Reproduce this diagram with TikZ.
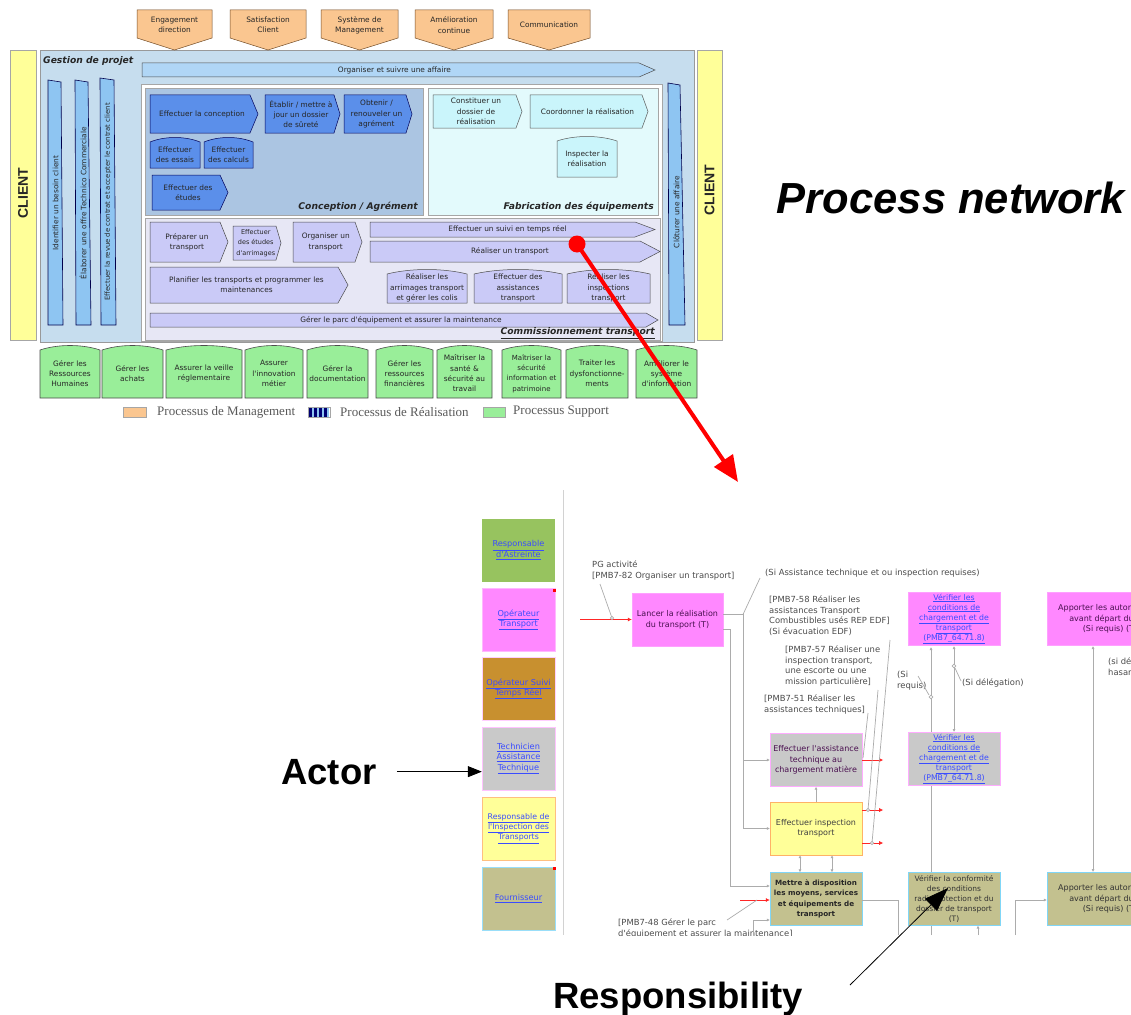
\documentclass[tikz,border=0pt]{standalone}
\usepackage{fontspec}
\setmainfont{Liberation Sans}
\newfontfamily\dejavu{DejaVu Sans}
\newfontfamily\timesf{Liberation Serif}
\usetikzlibrary{arrows.meta}
\definecolor{mgmt}{HTML}{FAC690}
\definecolor{frameblue}{HTML}{C6DDEE}
\definecolor{barblue}{HTML}{8EC5F2}
\definecolor{concbg}{HTML}{ABC5E2}
\definecolor{concbox}{HTML}{5B8FEA}
\definecolor{fabbg}{HTML}{E3FAFC}
\definecolor{fabbox}{HTML}{CAF5FB}
\definecolor{trbg}{HTML}{E7E7F5}
\definecolor{trbox}{HTML}{CACAF7}
\definecolor{supp}{HTML}{99EE99}
\definecolor{clienty}{HTML}{FFFF99}
\definecolor{mag}{HTML}{FF88FF}
\definecolor{grayb}{HTML}{C9C9C9}
\definecolor{khaki}{HTML}{C3C18F}
\definecolor{brownb}{HTML}{C8902F}
\definecolor{greenb}{HTML}{97C35F}
\definecolor{linkblue}{HTML}{3A4CFF}
\definecolor{darktxt}{HTML}{4A1050}
\newcommand\abox[8]{%
  \draw[#7] (#2,#3) -- ({#4-#6},#3) -- (#4,{(#3+#5)/2}) -- ({#4-#6},#5) -- (#2,#5) -- cycle;
  \node[boxtext] (#1) at ({(#2+#4-#6/2)/2},{(#3+#5)/2}) {#8};}
\newcommand\wbox[7]{%
  \draw[#6] (#2,#5) -- (#2,{#3+4}) .. controls ({#2+0.3*(#4-#2)},{#3-2}) and ({#2+0.7*(#4-#2)},{#3-2}) .. (#4,{#3+4}) -- (#4,#5) -- cycle;
  \node[boxtext] (#1) at ({(#2+#4)/2},{(#3+#5)/2+1.5}) {#7};}
\newcommand\mgbox[6]{%
  \draw[mgstyle] (#2,#3) -- (#4,#3) -- (#4,#5) -- ({(#2+#4)/2},{#5+12}) -- (#2,#5) -- cycle;
  \node[boxtext] (#1) at ({(#2+#4)/2},{(#3+#5)/2+1}) {#6};}
\newcommand\lk[1]{\underline{#1}}
\newcommand\sml{\fontsize{6.5}{9.4}\selectfont}
\newcommand\smm{\fontsize{7}{10}\selectfont}
\begin{document}
\begin{tikzpicture}[x=1pt,y=-1pt,
  boxtext/.style={font=\dejavu\fontsize{7.4}{10.3}\selectfont, align=center, inner sep=0pt, text=black!85},
  btext/.style={font=\dejavu\fontsize{8}{10.4}\selectfont, align=center, inner sep=0pt},
  ann/.style={font=\dejavu\fontsize{8.4}{10.5}\selectfont, align=left, inner sep=0pt, text=black!70},
  titletext/.style={font=\dejavu\bfseries\itshape\fontsize{9.2}{10}\selectfont, inner sep=0pt, text=black!85},
  legtext/.style={font=\timesf\fontsize{13}{13}\selectfont, text=black!65, anchor=west, inner sep=0pt},
  mgstyle/.style={fill=mgmt, draw=brown!60!black, line width=0.5pt},
  concb/.style={fill=concbox, draw=blue!35!black, line width=0.5pt},
  fabb/.style={fill=fabbox, draw=gray!70!black, line width=0.5pt},
  trb/.style={fill=trbox, draw=gray!60!black, line width=0.5pt},
  suppb/.style={fill=supp, draw=gray!60!black, line width=0.6pt},
  vbar/.style={fill=barblue, draw=blue!30!black, line width=0.6pt},
  actorbox/.style={minimum width=73pt, minimum height=63pt, inner sep=1pt, align=center,
     font=\dejavu\fontsize{8.2}{10.3}\selectfont, text=linkblue},
  pbox/.style={draw, minimum width=92pt, minimum height=53pt, inner sep=1pt, btext},
  conn/.style={draw=gray!65, line width=0.7pt},
  sarr/.style={-{Latex[length=3pt,width=3pt]}},
  redarr/.style={draw=red!85, line width=0.6pt, -{Latex[length=4pt,width=4pt]}},
  bigtext/.style={font=\bfseries\fontsize{36.5}{40}\selectfont, inner sep=0pt}
]
\useasboundingbox (0,0) rectangle (1131,1014);
\fill[white] (0,0) rectangle (1131,1014);

% ---------- process network ----------
\draw[fill=frameblue, draw=gray!80] (40,50) rectangle (694,342);
\mgbox{m1}{137}{10}{212}{38}{Engagement\\direction}
\mgbox{m2}{230}{10}{306}{38}{Satisfaction\\Client}
\mgbox{m3}{321}{10}{398}{38}{Système de\\Management}
\mgbox{m4}{415}{10}{493}{38}{Amélioration\\continue}
\mgbox{m5}{508}{10}{590}{38}{Communication}

\draw[fill=clienty, draw=gray!70] (10,50) rectangle (36,340);
\node[rotate=90, font=\bfseries\fontsize{14}{14}\selectfont, text=black!85, inner sep=0pt] (cl1) at (23,193) {CLIENT};
\draw[fill=clienty, draw=gray!70] (697,50) rectangle (722,340);
\node[rotate=90, font=\bfseries\fontsize{14}{14}\selectfont, text=black!85, inner sep=0pt] (cl2) at (709.5,190) {CLIENT};

\node[titletext, anchor=west] (gp) at (43,61) {Gestion de projet};
\abox{org}{142}{63}{655}{77}{16}{trb, fill=barblue!70}{Organiser et suivre une affaire}

\draw[vbar] (48,80) -- (61,82) -- (63,325) -- (48,325) -- cycle;
\node[boxtext, rotate=90] (v1) at (55.5,203) {Identifier un besoin client};
\draw[vbar] (75,80) -- (88,82) -- (91,325) -- (76,325) -- cycle;
\node[boxtext, rotate=90] (v2) at (83,203) {Élaborer une offre Technico Commerciale};
\draw[vbar] (100,78) -- (114,80) -- (116,325) -- (101,325) -- cycle;
\node[boxtext, rotate=90, font=\dejavu\fontsize{6.9}{8}\selectfont] (v3) at (108,202) {Effectuer la revue de contrat et accepter le contrat client};
\draw[vbar] (668,83) -- (680,85) -- (685,325) -- (669,325) -- cycle;
\node[boxtext, rotate=90] (v4) at (676.5,212) {Clôturer une affaire};

\draw[fill=white, draw=gray!70] (141,84) rectangle (662,341);
\draw[fill=concbg, draw=gray!70] (145,88) rectangle (423,215);
\draw[fill=fabbg, draw=gray!70] (428,88) rectangle (658,215);
\draw[fill=trbg, draw=gray!70] (145,218) rectangle (660,340);

\abox{c1}{150}{95}{258}{133}{8}{concb}{Effectuer la conception}
\abox{c2}{265}{95}{340}{133}{6}{concb}{Établir / mettre à\\jour un dossier\\de sûreté}
\abox{c3}{344}{95}{412}{133}{6}{concb}{Obtenir /\\renouveler un\\agrément}
\wbox{c4}{150}{138}{200}{168}{concb}{Effectuer\\des essais}
\wbox{c5}{204}{138}{253}{168}{concb}{Effectuer\\des calculs}
\abox{c6}{152}{175}{228}{210}{8}{concb}{Effectuer des\\études}
\node[titletext, anchor=east] (concl) at (418,207) {Conception / Agrément};

\abox{f1}{433}{95}{522}{128}{6}{fabb}{Constituer un\\dossier de\\réalisation}
\abox{f2}{530}{95}{648}{128}{6}{fabb}{Coordonner la réalisation}
\wbox{f3}{557}{137}{617}{177}{fabb}{Inspecter la\\réalisation}
\node[titletext, anchor=east] (fabl) at (654,207) {Fabrication des équipements};

\abox{t1}{150}{222}{228}{262}{8}{trb}{Préparer un\\transport}
\abox{t2}{233}{226}{281}{260}{5}{trb}{\sml Effectuer\\\sml des études\\\sml d'arrimages}
\abox{t3}{293}{222}{362}{262}{7}{trb}{Organiser un\\transport}
\abox{t4}{370}{222}{655}{237}{20}{trb}{Effectuer un suivi en temps réel}
\abox{t5}{370}{241}{660}{262}{20}{trb}{Réaliser un transport}
\abox{t6}{150}{267}{348}{303}{10}{trb}{Planifier les transports et programmer les\\maintenances}
\wbox{t7}{387}{270}{467}{303}{trb}{Réaliser les\\arrimages transport\\et gérer les colis}
\wbox{t8}{474}{270}{562}{303}{trb}{Effectuer des\\assistances\\transport}
\wbox{t9}{567}{270}{650}{303}{trb}{Réaliser les\\inspections\\transport}
\abox{t10}{150}{313}{658}{327}{12}{trb}{Gérer le parc d'équipement et assurer la maintenance}
\node[titletext, anchor=east] (trl) at (655,333) {\underline{Commissionnement transport}};

\wbox{s1}{40}{346}{100}{398}{suppb}{Gérer les\\Ressources\\Humaines}
\wbox{s2}{102}{346}{163}{398}{suppb}{Gérer les\\achats}
\wbox{s3}{166}{346}{242}{398}{suppb}{Assurer la veille\\réglementaire}
\wbox{s4}{245}{346}{303}{398}{suppb}{Assurer\\l'innovation\\métier}
\wbox{s5}{307}{346}{368}{398}{suppb}{Gérer la\\documentation}
\wbox{s6}{376}{346}{433}{398}{suppb}{Gérer les\\ressources\\financières}
\wbox{s7}{437}{346}{492}{398}{suppb}{Maîtriser la\\santé \&\\sécurité au\\travail}
\wbox{s8}{502}{346}{561}{398}{suppb}{\smm Maîtriser la\\\smm sécurité\\\smm information et\\\smm patrimoine}
\wbox{s9}{566}{346}{628}{398}{suppb}{Traiter les\\dysfonctionne-\\ments}
\wbox{s10}{636}{346}{697}{398}{suppb}{Améliorer le\\système\\d'information}

% legend
\draw[fill=mgmt, draw=gray!70] (123,407) rectangle (146,417);
\node[legtext] (lg1) at (157,412) {Processus de Management};
\draw[fill=white, draw=gray!70] (308,407) rectangle (330,417);
\foreach \sx in {309,314,319,324} {\fill[blue!45!black] (\sx,407.5) rectangle (\sx+2.5,416.5);}
\foreach \sx in {311.5,316.5,321.5,326.5} {\fill[barblue] (\sx,407.5) rectangle (\sx+2.5,416.5);}
\node[legtext] (lg2) at (340,412) {Processus de Réalisation};
\draw[fill=supp, draw=gray!70] (483,407) rectangle (505,417);
\node[legtext] (lg3) at (513,412) {Processus Support};

\node[font=\bfseries\itshape\fontsize{43.5}{46}\selectfont, anchor=base, inner sep=0pt] (pn) at (951,213) {Process network};

% ---------- actors ----------
\draw[gray!35, line width=1pt] (563,490) -- (563,935);
\node[actorbox, fill=greenb] (a1) at (518.5,550) {\lk{Responsable}\\\lk{d'Astreinte}};
\node[actorbox, fill=mag, draw=mag!60] (a2) at (518.5,620) {\lk{Opérateur}\\\lk{Transport}};
\fill[red] (553,589) rectangle (556,592);
\node[actorbox, fill=brownb, draw=mag!40] (a3) at (518.5,689) {\lk{Opérateur Suivi}\\\lk{Temps Réel}};
\node[actorbox, fill=grayb, draw=mag!50] (a4) at (518.5,758.5) {\lk{Technicien}\\\lk{Assistance}\\\lk{Technique}};
\node[actorbox, fill=clienty, draw=orange!50, font=\dejavu\fontsize{7.8}{10.3}\selectfont] (a5) at (518.5,828.5) {\lk{Responsable de}\\\lk{l'Inspection des}\\\lk{Transports}};
\node[actorbox, fill=khaki, draw=cyan!40] (a6) at (518.5,898.5) {\lk{Fournisseur}};
\fill[red] (553,867) rectangle (556,870);

\node[bigtext, anchor=base] (actorlbl) at (329,784) {Actor};
\draw[line width=0.8pt, -{Triangle[length=14pt,width=11pt]}] ([xshift=20pt]actorlbl.east) -- (a4.west |- actorlbl.east);

% ---------- lower process diagram ----------
\begin{scope}
\clip (563,488) rectangle (1131,935);
\node[ann, anchor=north west] (pg) at (592,561) {PG activité\\{[}PMB7-82 Organiser un transport{]}};
\node[ann, anchor=west] (si1) at (765,573) {(Si Assistance technique et ou inspection requises)};
\node[ann, anchor=north west] (pm58) at (769,596) {{[}PMB7-58 Réaliser les\\assistances Transport\\Combustibles usés REP EDF{]}\\(Si évacuation EDF)};
\node[ann, anchor=north west] (pm57) at (785,646) {{[}PMB7-57 Réaliser une\\inspection transport,\\une escorte ou une\\mission particulière{]}};
\node[ann, anchor=north west] (pm51) at (764,695) {{[}PMB7-51 Réaliser les\\assistances techniques{]}};
\node[ann, anchor=north west] (pm48) at (618,919) {{[}PMB7-48 Gérer le parc\\ d'équipement et assurer la maintenance{]}};
\node[ann, anchor=north west] (sireq) at (897,671) {(Si\\requis)};
\node[ann, anchor=west] (sidel) at (962,683) {(Si délégation)};
\node[ann, anchor=north west] (sid) at (1108,658) {(si dé\\hasar};

% vertical links behind boxes
\draw[conn, sarr] (931,935) -- (931,647);
\draw[conn, {Latex[length=3pt,width=3pt]}-{Latex[length=3pt,width=3pt]}] (954,646) -- (954,732);
\draw[conn, {Latex[length=3pt,width=3pt]}-{Latex[length=3pt,width=3pt]}] (1093,646) -- (1093,872);
\draw[conn] (898,900) -- (898,935);
\draw[conn] (1015,935) -- (1015,900);
\draw[conn] (753,935) -- (753,920);
\draw[conn] (978,935) -- (978,927);

\node[pbox, fill=mag, draw=mag!80, text=darktxt, minimum width=91pt] (lancer) at (677.5,619.5) {Lancer la réalisation\\du transport (T)};
\node[pbox, fill=grayb, draw=mag!70, text=darktxt] (eff1) at (816,760) {Effectuer l'assistance\\technique au\\chargement matière};
\node[pbox, fill=clienty, draw=orange!60, text=black!75] (eff2) at (816,828.5) {Effectuer inspection\\transport};
\node[pbox, fill=khaki, draw=cyan!50, text=black!85, font=\dejavu\bfseries\fontsize{7.2}{10.4}\selectfont] (motive) at (816,899) {Mettre à disposition\\les moyens, services\\et équipements de\\transport};
\node[pbox, fill=mag, draw=mag!80, text=linkblue, font=\dejavu\fontsize{7.8}{10.1}\selectfont] (verif1) at (954,619) {\lk{Vérifier les}\\\lk{conditions de}\\\lk{chargement et de}\\\lk{transport}\\\lk{(PMB7\_64.71.8)}};
\node[pbox, fill=grayb, draw=mag!70, text=linkblue, font=\dejavu\fontsize{7.8}{10.1}\selectfont] (verif2) at (954,759) {\lk{Vérifier les}\\\lk{conditions de}\\\lk{chargement et de}\\\lk{transport}\\\lk{(PMB7\_64.71.8)}};
\node[pbox, fill=khaki, draw=cyan!50, text=black!80, font=\dejavu\fontsize{7.5}{10.1}\selectfont] (conform) at (954,899) {Vérifier la conformité\\des conditions\\radioprotection et du\\dossier de transport\\(T)};
\node[pbox, fill=mag, draw=mag!80, text=darktxt, minimum width=126pt] (auto1) at (1110,619) {Apporter les autorisations\\avant départ du site\\(Si requis) (T)};
\node[pbox, fill=khaki, draw=cyan!50, text=black!80, minimum width=126pt] (auto2) at (1110,899) {Apporter les autorisations\\avant départ du site\\(Si requis) (T)};

% connectors
\coordinate (rin) at (580,619.5);
\draw[redarr] (rin) -- (lancer.west);
\coordinate (pgc) at (612,618);
\draw[conn] (600,584) -- (pgc);
\draw[conn, fill=white] (pgc) circle (1.6);
\coordinate (j1) at (743,614.5);
\coordinate (j2) at (743,760);
\coordinate (j3) at (743,828.5);
\draw[conn] ([yshift=5pt]lancer.east) -- (j1) -- (j3);
\draw[conn] (j1) -- (760,578);
\draw[conn, sarr] (j2) -- (eff1.west);
\draw[conn, sarr] (j3) -- (eff2.west);
\coordinate (k1) at (730,629);
\coordinate (k2) at (730,886);
\draw[conn, sarr] ([yshift=-9.5pt]lancer.east) -- (k1) -- (k2) -- (motive.west |- k2);
\coordinate (rin2) at (740,900);
\draw[redarr] (rin2) -- (motive.west |- rin2);
\draw[conn] (727,920) -- (757,900);
\draw[conn, sarr] (753,920) -- (motive.west |- 0,920);
\draw[conn, sarr] (eff2.north) -- (eff1.south);
\draw[conn, {Latex[length=3pt,width=3pt]}-{Latex[length=3pt,width=3pt]}] ([xshift=-16pt]eff2.south) -- ([xshift=-16pt]motive.north);
\draw[conn, {Latex[length=3pt,width=3pt]}-{Latex[length=3pt,width=3pt]}] ([xshift=16pt]eff2.south) -- ([xshift=16pt]motive.north);
\draw[redarr] (eff1.east) -- ++(21,0);
\draw[redarr] ([yshift=18.5pt]eff2.east) -- ++(21,0);
\draw[redarr] ([yshift=-14.5pt]eff2.east) -- ++(21,0);
\draw[conn] (890,640) -- (872,843);
\draw[conn] (878,690) -- (868,810);
\draw[conn] (868,713) -- (863,758);
\draw[conn, fill=white] (872,843) circle (1.6);
\draw[conn, fill=white] (868,810) circle (1.6);
\draw[conn] (918,676) -- (929,695);
\draw[conn, fill=white] (931,697) circle (1.8);
\draw[conn] (961,681) -- (955,668);
\draw[conn, fill=white] (954,666) circle (1.8);
\draw[conn] (motive.east |- 0,900) -- (898,900);
\draw[conn, sarr] (1015,900) -- (auto2.west |- 0,900);
\draw[conn, sarr] (978,927) -- (978,925.5);
\end{scope}

\node[bigtext, anchor=base] (resp) at (678,1008) {Responsibility};
\coordinate (respstart) at (850,985);
\draw[line width=0.8pt, -{Triangle[length=24pt,width=17pt]}] (respstart) -- ([xshift=-6pt,yshift=11pt]conform.center);

% red link
\node[circle, fill=red, minimum size=17pt, inner sep=0pt] (dot) at (577,244) {};
\coordinate (redtip) at (738,482);
\draw[red, line width=4pt, -{Triangle[length=26pt,width=22pt]}] (dot.center) -- (redtip);
\end{tikzpicture}
\end{document}
